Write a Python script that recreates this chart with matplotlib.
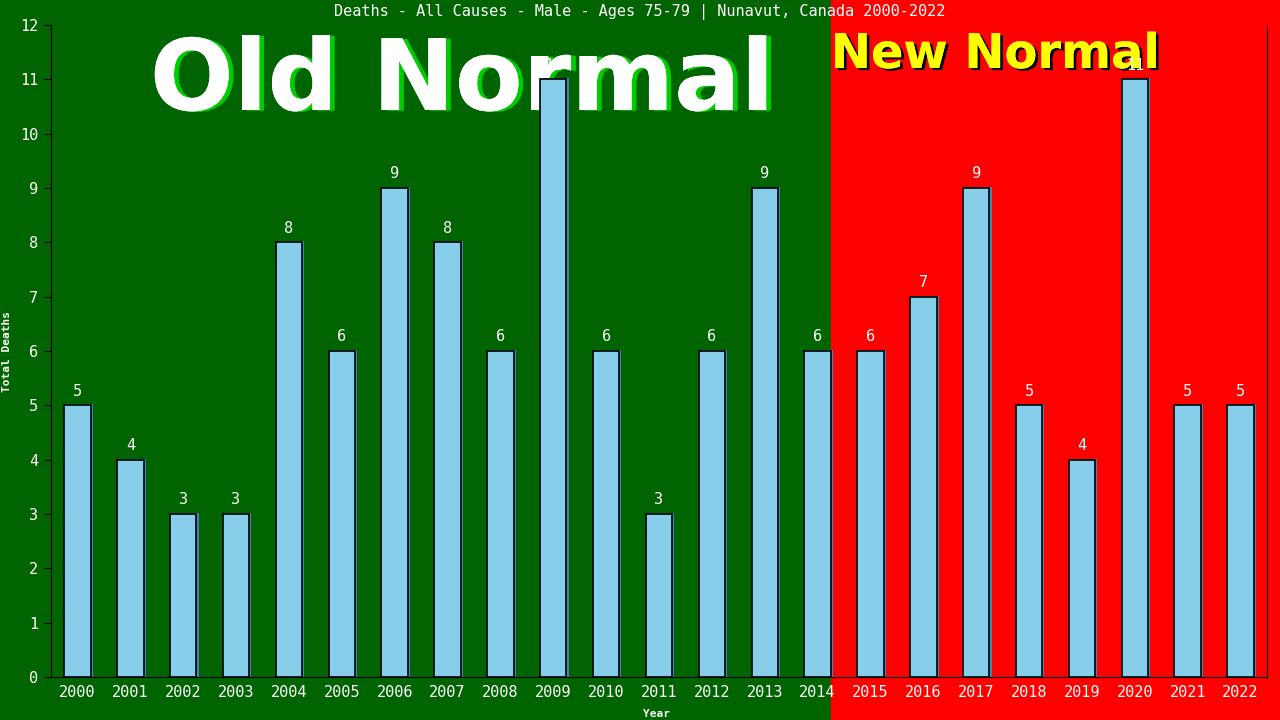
"""Deaths bar chart, old normal vs new normal background."""

import matplotlib
matplotlib.use("Agg")
import matplotlib.pyplot as plt
import matplotlib.patheffects as pe

years = [str(y) for y in range(2000, 2023)]
deaths = [5, 4, 3, 3, 8, 6, 9, 8, 6, 11, 6, 3, 6, 9, 6, 6, 7, 9, 5, 4, 11, 5, 5]
split_index = 14  # last "old normal" year (2014)

mono = "DejaVu Sans Mono"

fig = plt.figure(figsize=(12.8, 7.2), dpi=100)
ax = fig.add_axes([51 / 1280, 43 / 720, 1216 / 1280, 652 / 720])

# Background split: green for old normal, red for new normal
x = list(range(len(years)))
ax.set_xlim(-0.5, len(years) - 0.5)
ax.set_ylim(0, 12)
split_x = split_index + 0.25
fig.canvas.draw()
disp = ax.transData.transform((split_x, 0))[0]
frac = fig.transFigure.inverted().transform((disp, 0))[0]
fig.patches.append(plt.Rectangle((0, 0), frac, 1, transform=fig.transFigure,
                                 color="#006400", zorder=-10))
fig.patches.append(plt.Rectangle((frac, 0), 1 - frac, 1, transform=fig.transFigure,
                                 color="#ff0000", zorder=-10))
ax.set_facecolor("none")

# Big headline texts sit behind the bars
ax.text(462 / 1280, 1 - 110 / 720, "Old Normal", transform=fig.transFigure,
        ha="center", va="baseline", color="white", fontsize=71,
        fontweight="bold", family="DejaVu Sans", zorder=1, clip_on=False,
        path_effects=[pe.withSimplePatchShadow(offset=(3.5, -0.5),
                                               shadow_rgbFace="#00cc00", alpha=1),
                      pe.Normal()])
ax.text(995 / 1280, 1 - 68 / 720, "New Normal", transform=fig.transFigure,
        ha="center", va="baseline", color="#ffff00", fontsize=34.5,
        fontweight="bold", family="DejaVu Sans", zorder=1, clip_on=False,
        path_effects=[pe.withSimplePatchShadow(offset=(2, -1.5),
                                               shadow_rgbFace="black", alpha=1),
                      pe.Normal()])

# Bars with a small shadow
ax.bar([i + 0.04 for i in x], [d + 0.02 for d in deaths], width=0.5,
       color="#4682b4", zorder=2)
ax.bar(x, deaths, width=0.5, color="#87ceeb", edgecolor="black",
       linewidth=1.2, zorder=3)
for i, d in zip(x, deaths):
    ax.text(i, d + 0.12, str(d), ha="center", va="bottom", color="white",
            fontsize=11, family=mono, zorder=4)

ax.set_xticks(x)
ax.set_xticklabels(years, color="white", fontsize=11, family=mono)
ax.set_yticks(range(0, 13))
ax.set_yticklabels([str(v) for v in range(0, 13)], color="white",
                   fontsize=11, family=mono)
ax.tick_params(axis="x", length=0, pad=6)
ax.tick_params(axis="y", length=5, color="black", pad=4)
for side in ["left", "bottom", "right"]:
    ax.spines[side].set_color("black")
ax.spines["top"].set_visible(False)

ax.set_xlabel("Year", color="white", fontsize=8, family=mono, fontweight="bold")
ax.set_ylabel("Total Deaths", color="white", fontsize=8, family=mono,
              fontweight="bold")
ax.xaxis.set_label_coords(0.498, -0.049)
ax.yaxis.set_label_coords(-0.032, 0.5)

fig.text(0.5, 0.983, "Deaths - All Causes - Male - Ages 75-79 | Nunavut, Canada 2000-2022",
         ha="center", va="center", color="white", fontsize=11, family=mono)

fig.savefig("out.png", dpi=100)
